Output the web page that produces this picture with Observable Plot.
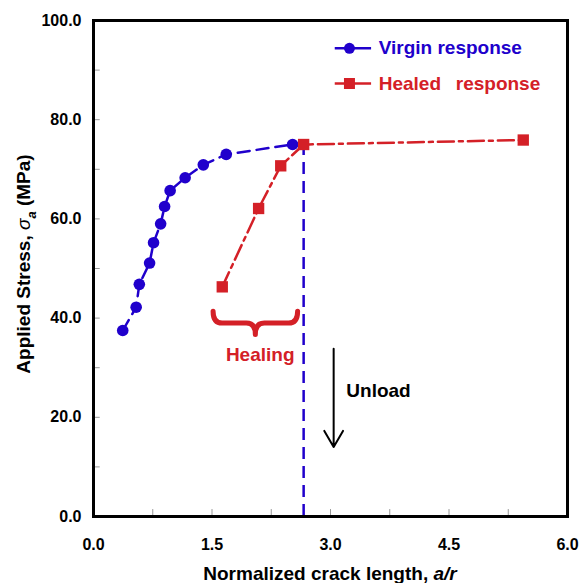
<!DOCTYPE html>
<html><head><meta charset="utf-8">
<script src="https://cdn.jsdelivr.net/npm/d3@7"></script>
<script src="https://cdn.jsdelivr.net/npm/@observablehq/plot@0.6"></script>
<style>
body{margin:0;background:#fff;}
#chart svg{font-family:"Liberation Sans",Arial,sans-serif;}
</style>
</head><body><div id="chart"></div>
<script>
// ---- data ----
const virginX = [0.37, 0.54, 0.58, 0.71, 0.76, 0.85, 0.90, 0.97, 1.16, 1.39, 1.68, 2.52];
const virginY = [37.5, 42.2, 46.8, 51.1, 55.2, 59.0, 62.5, 65.7, 68.3, 70.9, 73.0, 75.0];
const healedX = [1.63, 2.09, 2.37, 2.66, 5.44];
const healedY = [46.3, 62.1, 70.7, 75.0, 75.9];
const unloadX = 2.66;
const xTicks = [0, 1.5, 3.0, 4.5, 6.0];
const xMinorTicks = [0, 0.75, 1.5, 2.25, 3.0, 3.75, 4.5, 5.25, 6.0];
const yTicks = [0, 20, 40, 60, 80, 100];
const yMinorTicks = [0, 10, 20, 30, 40, 50, 60, 70, 80, 90, 100];
const seriesNames = ["Virgin response", "Healed\u2002 response"];

// ---- styles ----
const BLUE = "#2000cc", RED = "#d42027";
const virgin = virginX.map((x, i) => ({x, y: virginY[i]}));
const healed = healedX.map((x, i) => ({x, y: healedY[i]}));

// legend placement (data units)
const legX1 = 3.06, legX2 = 3.52, legMark = 3.24, legText = 3.61;
const legY = [94.4, 87.3];

const plot = Plot.plot({
  width: 579, height: 583,
  marginLeft: 93, marginRight: 12, marginTop: 20, marginBottom: 67,
  style: {fontSize: "16px", fontWeight: "bold", fontFamily: "Liberation Sans, Arial, sans-serif", background: "#fff"},
  x: {domain: [0, 6]},
  y: {domain: [0, 100]},
  marks: [
    Plot.ruleX(xMinorTicks, {x: d => d, y1: 0, y2: 1.4, stroke: "#999", strokeWidth: 1}),
    Plot.ruleY(yMinorTicks, {y: d => d, x1: 0, x2: 0.085, stroke: "#999", strokeWidth: 1}),
    Plot.axisX(xTicks, {tickFormat: d3.format(".1f"), tickSize: 0, tickPadding: 22, label: null, fontSize: 16, fontWeight: "bold", fill: "#000"}),
    Plot.axisY(yTicks, {tickFormat: d3.format(".1f"), tickSize: 0, tickPadding: 12, label: null, fontSize: 16, fontWeight: "bold", fill: "#000"}),
    // unload dashed line
    Plot.ruleX([unloadX], {x: d => d, y1: 0, y2: healedY[3], stroke: BLUE, strokeWidth: 2.5, strokeDasharray: "12,7"}),
    // virgin
    Plot.line(virgin, {x: "x", y: "y", stroke: BLUE, strokeWidth: 2.5, strokeDasharray: "12,7"}),
    Plot.dot(virgin, {x: "x", y: "y", r: 5.8, fill: BLUE}),
    // healed
    Plot.line(healed, {x: "x", y: "y", stroke: RED, strokeWidth: 2.5, strokeDasharray: "16,5,4,5"}),
    Plot.dot(healed, {x: "x", y: "y", symbol: "square", r: 6.4, fill: RED}),
    // legend
    Plot.ruleY([legY[0]], {y: d => d, x1: legX1, x2: legX2, stroke: BLUE, strokeWidth: 2.5}),
    Plot.dot([legY[0]], {x: legMark, y: d => d, r: 5.5, fill: BLUE}),
    Plot.ruleY([legY[1]], {y: d => d, x1: legX1, x2: legX2, stroke: RED, strokeWidth: 2.5}),
    Plot.dot([legY[1]], {x: legMark, y: d => d, symbol: "square", r: 6.2, fill: RED}),
    Plot.text([seriesNames[0]], {x: legText, y: legY[0], text: d => d, textAnchor: "start", fill: BLUE, fontSize: 19, fontWeight: "bold"}),
    Plot.text([seriesNames[1]], {x: legText, y: legY[1], text: d => d, textAnchor: "start", fill: RED, fontSize: 19, fontWeight: "bold"}),
    // annotations
    Plot.text(["Healing"], {x: 2.11, y: 32.6, text: d => d, fill: RED, fontSize: 19, fontWeight: "bold"}),
    Plot.arrow([0], {x1: 3.04, y1: 33.8, x2: 3.04, y2: 14.0, stroke: "#000", strokeWidth: 2, headLength: 14, bend: 0}),
    Plot.text(["Unload"], {x: 3.2, y: 25.3, text: d => d, textAnchor: "start", fill: "#000", fontSize: 19, fontWeight: "bold"}),
    Plot.frame({stroke: "#000", strokeWidth: 3})
  ]
});

document.getElementById("chart").append(plot);

// brace and axis titles
const svg = d3.select(plot);
const sx = plot.scale("x"), sy = plot.scale("y");
const X = v => sx.apply(v), Y = v => sy.apply(v);
const bx0 = X(1.52), bx1 = X(2.59), bxc = (bx0 + bx1) / 2;
const byTop = Y(41.3), byMid = Y(38.9), byBot = Y(36.6), r = 9;
svg.append("path")
  .attr("d", `M${bx0},${byTop} Q${bx0},${byMid} ${bx0 + r},${byMid} L${bxc - r},${byMid} Q${bxc},${byMid} ${bxc},${byBot} Q${bxc},${byMid} ${bxc + r},${byMid} L${bx1 - r},${byMid} Q${bx1},${byMid} ${bx1},${byTop}`)
  .attr("fill", "none").attr("stroke", RED).attr("stroke-width", 5).attr("stroke-linecap", "round").attr("stroke-linejoin", "round");

const xt = svg.append("text")
  .attr("x", (X(0) + X(6)) / 2).attr("y", 580)
  .attr("text-anchor", "middle").attr("font-size", 19).attr("font-weight", "bold").attr("fill", "#000");
xt.append("tspan").text("Normalized crack length, ");
xt.append("tspan").attr("font-style", "italic").text("a/r");

const yt = svg.append("text")
  .attr("transform", `translate(30,${(Y(0) + Y(100)) / 2 - 4}) rotate(-90)`)
  .attr("text-anchor", "middle").attr("font-size", 19).attr("font-weight", "bold").attr("fill", "#000");
yt.append("tspan").text("Applied Stress, ");
yt.append("tspan").attr("font-style", "italic").attr("font-weight", "normal").text("σ");
yt.append("tspan").attr("font-style", "italic").attr("font-size", 13).attr("dy", 6).text("a");
yt.append("tspan").attr("dy", -6).text(" (MPa)");
</script>
</body></html>
